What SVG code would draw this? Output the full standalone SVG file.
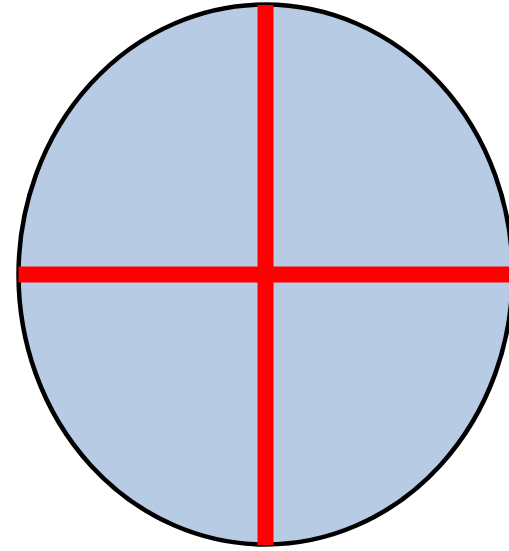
<svg xmlns="http://www.w3.org/2000/svg" width="509" height="551" viewBox="0 0 509 551">
<style>
.cross{stroke:#ff0000;stroke-width:16;fill:none}
</style>
<rect width="509" height="551" fill="#ffffff"/>
<g id="ellipse">
<ellipse cx="265.5" cy="274.5" rx="247" ry="270" fill="#b7cbe4" stroke="#000000" stroke-width="4.5"/>
</g>
<g id="connectors">
<line class="cross" x1="265.5" y1="5" x2="265.5" y2="545"/>
<line class="cross" x1="18.5" y1="274.5" x2="509" y2="274.5"/>
</g>
</svg>
